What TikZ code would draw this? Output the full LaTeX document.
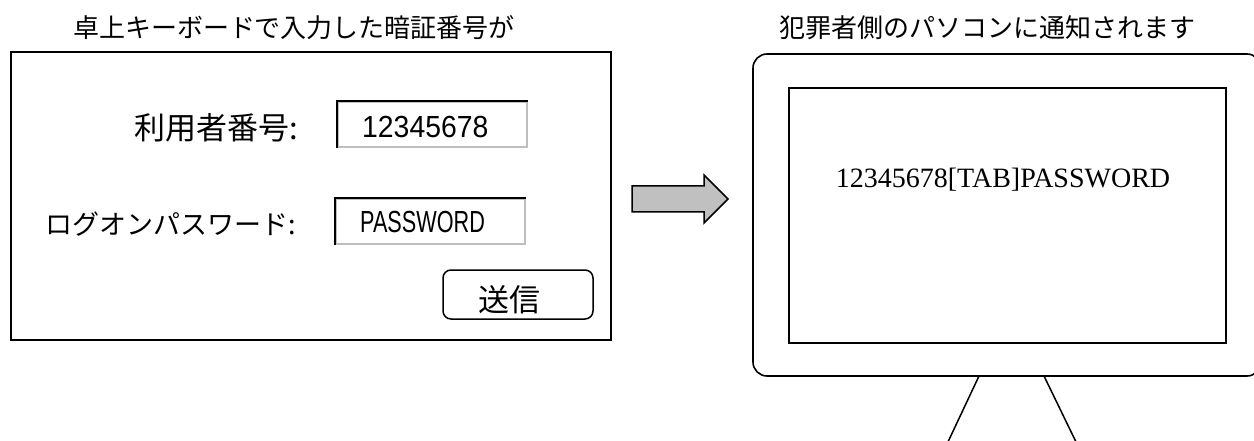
\documentclass[tikz,border=0pt]{standalone}
\usepackage{fontspec}
\setmainfont{Liberation Serif}
\newfontfamily\jpfont{Noto Sans CJK JP}
\newfontfamily\numfont[FakeStretch=0.93]{Liberation Sans}
\newfontfamily\pwfont[FakeStretch=0.71]{Liberation Sans}
\definecolor{arrowgray}{HTML}{C0C0C0}
\definecolor{fieldgray}{HTML}{BEBEBE}
\tikzset{
  frame/.style={draw=black, line width=1.6pt},
  title/.style={inner sep=0pt, font=\jpfont\fontsize{26}{30}\selectfont},
  biglabel/.style={inner sep=0pt, font=\jpfont\fontsize{31}{34}\selectfont},
  smalllabel/.style={inner sep=0pt, font=\jpfont\fontsize{27}{30}\selectfont},
  field/.style={draw=fieldgray, line width=2pt, minimum width=189pt, minimum height=45pt, inner sep=0pt},
  fieldedge/.style={draw=black, line width=2pt},
}
\begin{document}
\begin{tikzpicture}[x=1pt,y=-1pt]
\useasboundingbox (0,0) rectangle (1254,441);
% Drawing the input form
\node[title] (formttl) at (294,28) {卓上キーボードで入力した暗証番号が};
\node[frame, minimum width=600pt, minimum height=288pt] (form) at (311,196) {};
% Line 1: user number
\node[biglabel, anchor=east] (idlbl) at (298,128) {利用者番号:};
\node[field] (idbox) at (432.5,124.5) {};
\draw[fieldedge] (idbox.south west) -- (idbox.north west) -- (idbox.north east);
\node[inner sep=0pt, anchor=west, font=\numfont\fontsize{30.5}{34}\selectfont] (idtxt) at (362,127) {12345678};
% Line 2: logon password
\node[smalllabel, anchor=east] (pwlbl) at (296,224) {ログオンパスワード:};
\node[field] (pwbox) at (430.5,221.5) {};
\draw[fieldedge] (pwbox.south west) -- (pwbox.north west) -- (pwbox.north east);
\node[inner sep=0pt, anchor=west, font=\pwfont\fontsize{30.5}{34}\selectfont] (pwtxt) at (360,222) {PASSWORD};
% send button
\node[draw, line width=1.5pt, rounded corners=8pt, minimum width=150pt, minimum height=49pt] (sendbtn) at (518,294.5) {};
\node[biglabel] (sendtxt) at (509,300) {送信};
% Done with form; drawing arrow
\draw[line width=1.5pt, fill=arrowgray, line join=miter] (632,186) -- (704,186) -- (704,175) -- (728,199) -- (704,223) -- (704,212) -- (632,212) -- cycle;
% Drawing the monitor
\node[title] (pcttl) at (987,28) {犯罪者側のパソコンに通知されます};
\node[frame, rounded corners=14pt, minimum width=508pt, minimum height=322pt] (monitor) at (1007,215) {};
\node[frame, minimum width=437pt, minimum height=255pt] (screen) at (1007.5,215.5) {};
\node[inner sep=0pt, font=\fontsize{28}{32}\selectfont] (leaked) at (1003,180) {12345678[TAB]PASSWORD};
% stand
\draw[line width=1.5pt] (979,376) -- (947,444);
\draw[line width=1.5pt] (1044,376) -- (1077,444);
\end{tikzpicture}
\end{document}
